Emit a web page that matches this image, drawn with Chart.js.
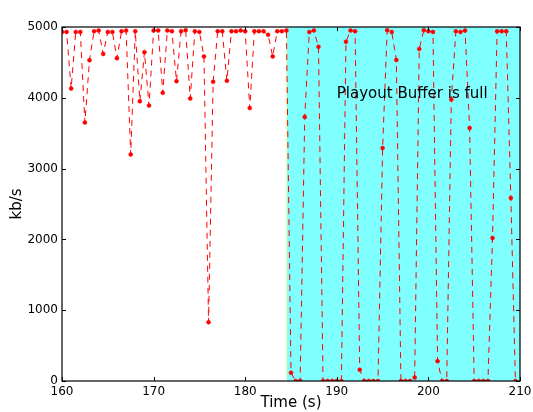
<!DOCTYPE html>
<html>
<head>
<meta charset="UTF-8">
<title>Playout buffer rate</title>
<style>
  body { margin: 0; background: #fff; }
</style>
</head>
<body>
<canvas id="rateChart" width="533" height="412"></canvas>
<script src="https://cdn.jsdelivr.net/npm/chart.js/dist/chart.umd.min.js"></script>
<script>
// sample times (s) and received rate (kb/s)
const times = [
  160.0, 160.5, 161.0, 161.5, 162.0, 162.5, 163.0, 163.5, 164.0, 164.5,
  165.0, 165.5, 166.0, 166.5, 167.0, 167.5, 168.0, 168.5, 169.0, 169.5,
  170.0, 170.5, 171.0, 171.5, 172.0, 172.5, 173.0, 173.5, 174.0, 174.5,
  175.0, 175.5, 176.0, 176.5, 177.0, 177.5, 178.0, 178.5, 179.0, 179.5,
  180.0, 180.5, 181.0, 181.5, 182.0, 182.5, 183.0, 183.5, 184.0, 184.5,
  185.0, 185.5, 186.0, 186.5, 187.0, 187.5, 188.0, 188.5, 189.0, 189.5,
  190.0, 190.5, 191.0, 191.5, 192.0, 192.5, 193.0, 193.5, 194.0, 194.5,
  195.0, 195.5, 196.0, 196.5, 197.0, 197.5, 198.0, 198.5, 199.0, 199.5,
  200.0, 200.5, 201.0, 201.5, 202.0, 202.5, 203.0, 203.5, 204.0, 204.5,
  205.0, 205.5, 206.0, 206.5, 207.0, 207.5, 208.0, 208.5, 209.0, 209.5
];
const kbps = [
  4930, 4930, 4130, 4930, 4930, 3650, 4530, 4940, 4950, 4620,
  4930, 4930, 4560, 4940, 4950, 3200, 4940, 3950, 4645, 3890,
  4950, 4950, 4070, 4950, 4940, 4235, 4940, 4955, 3990, 4940,
  4930, 4585, 830, 4225, 4940, 4940, 4240, 4940, 4940, 4950,
  4940, 3855, 4940, 4940, 4940, 4890, 4585, 4940, 4940, 4950,
  117, 0, 0, 3730, 4930, 4950, 4720, 0, 0, 0,
  0, 0, 4790, 4950, 4940, 160, 0, 0, 0, 0,
  3290, 4955, 4930, 4535, 0, 0, 0, 50, 4690, 4955,
  4940, 4930, 280, 0, 0, 3975, 4940, 4930, 4950, 3575,
  0, 0, 0, 0, 2020, 4940, 4940, 4940, 2585, 0
];

const xTicks = [160, 170, 180, 190, 200, 210];
const yTicks = [0, 1000, 2000, 3000, 4000, 5000];

// shaded interval where the buffer is full
const fullFrom = 184.5;
const fullTo = 210;
const noteText = 'Playout Buffer is full';
const noteAt = [190, 4000];

Chart.defaults.font.family = 'DejaVu Sans';
Chart.defaults.color = '#000';

const points = times.map((t, i) => ({ x: t, y: kbps[i] }));

// cyan band behind the line
const bandPlugin = {
  id: 'band',
  beforeDatasetsDraw(chart) {
    const { ctx, chartArea, scales } = chart;
    const x0 = scales.x.getPixelForValue(fullFrom);
    const x1 = scales.x.getPixelForValue(fullTo);
    ctx.save();
    ctx.fillStyle = '#80ffff';
    ctx.fillRect(x0, chartArea.top, x1 - x0, chartArea.bottom - chartArea.top);
    ctx.fillStyle = 'rgba(255,255,160,0.9)';
    ctx.fillRect(x0 - 0.5, chartArea.top, 1, chartArea.bottom - chartArea.top);
    ctx.restore();
  }
};

// box, inward ticks on all four sides, and the text note
const framePlugin = {
  id: 'frame',
  afterDatasetsDraw(chart) {
    const { ctx, chartArea: a, scales } = chart;
    const len = 4;
    ctx.save();
    ctx.strokeStyle = '#000';
    ctx.lineWidth = 1;
    ctx.beginPath();
    xTicks.forEach(v => {
      const px = Math.round(scales.x.getPixelForValue(v)) + 0.5;
      ctx.moveTo(px, a.bottom); ctx.lineTo(px, a.bottom - len);
      ctx.moveTo(px, a.top); ctx.lineTo(px, a.top + len);
    });
    yTicks.forEach(v => {
      const py = Math.round(scales.y.getPixelForValue(v)) + 0.5;
      ctx.moveTo(a.left, py); ctx.lineTo(a.left + len, py);
      ctx.moveTo(a.right, py); ctx.lineTo(a.right - len, py);
    });
    ctx.stroke();
    ctx.lineWidth = 1.2;
    ctx.strokeRect(a.left, a.top, a.right - a.left, a.bottom - a.top);

    ctx.fillStyle = '#000';
    ctx.font = '15px "DejaVu Sans"';
    ctx.textAlign = 'left';
    ctx.textBaseline = 'alphabetic';
    ctx.fillText(noteText, scales.x.getPixelForValue(noteAt[0]), scales.y.getPixelForValue(noteAt[1]));
    ctx.restore();
  }
};

new Chart(document.getElementById('rateChart'), {
  type: 'line',
  data: {
    datasets: [{
      data: points,
      borderColor: '#ff0000',
      borderWidth: 1,
      borderDash: [6, 5],
      pointRadius: 2,
      pointBorderWidth: 0.5,
      pointBackgroundColor: '#ff0000',
      pointBorderColor: '#ff0000',
      tension: 0,
      clip: 0
    }]
  },
  options: {
    responsive: false,
    animation: false,
    events: [],
    layout: { padding: { top: 27, right: 13, left: 0, bottom: 0 } },
    plugins: { legend: { display: false }, tooltip: { enabled: false } },
    scales: {
      x: {
        type: 'linear',
        min: 160,
        max: 210,
        afterBuildTicks: s => { s.ticks = xTicks.map(v => ({ value: v })); },
        afterFit: s => { s.height = 31; s.paddingLeft = 0; s.paddingRight = 0; },
        grid: { display: false, drawTicks: false },
        border: { display: false },
        ticks: { font: { size: 12 }, padding: 4, maxRotation: 0, callback: v => String(v) },
        title: { display: true, text: 'Time (s)', font: { size: 15 }, padding: { top: 0, bottom: 0 } }
      },
      y: {
        min: 0,
        max: 5000,
        afterBuildTicks: s => { s.ticks = yTicks.map(v => ({ value: v })); },
        afterFit: s => { s.width = 62; s.paddingTop = 0; s.paddingBottom = 0; },
        grid: { display: false, drawTicks: false },
        border: { display: false },
        ticks: { font: { size: 12 }, padding: 4, callback: v => String(v) },
        title: { display: true, text: 'kb/s', font: { size: 15 }, padding: { top: 8, bottom: 0 } }
      }
    }
  },
  plugins: [bandPlugin, framePlugin]
});
</script>
</body>
</html>
